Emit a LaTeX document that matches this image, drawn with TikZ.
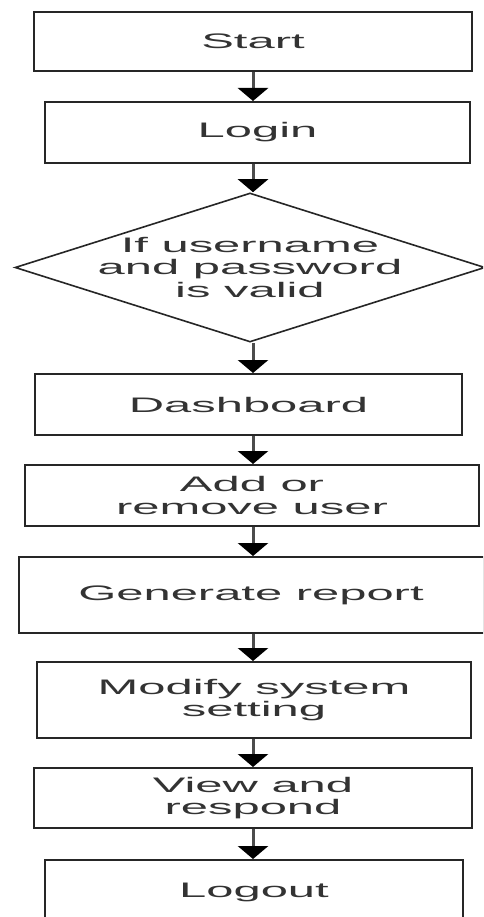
\documentclass[tikz,border=0pt]{standalone}
\usepackage{fontspec}
\setmainfont[FakeStretch=2.33]{Liberation Sans}
\usetikzlibrary{shapes.geometric,arrows.meta}
\begin{document}
\begin{tikzpicture}[x=1pt,y=-1pt,
  box/.style={draw=black!85,line width=2pt,rectangle,inner sep=0pt,align=center,
    text=black!80,font=\fontsize{21}{22.5}\selectfont},
  decision/.style={draw=black!85,line width=1.6pt,diamond,inner sep=0pt,
    minimum width=470pt,minimum height=149pt},
  txt/.style={align=center,inner sep=0pt,text=black!80,font=\fontsize{21}{22.5}\selectfont},
  flow/.style={draw=black!70,line width=3pt,-{Triangle[width=30pt,length=13pt,black]}}]
\clip (0,0) rectangle (483,917);
\fill[white] (0,0) rectangle (483,917);
\coordinate (axis) at (253,0);
\node[box,minimum width=438pt,minimum height=59pt] (start) at (253,41.5) {Start};
\node[box,minimum width=425pt,minimum height=61pt] (login) at (257.5,132.5) {Login};
\node[decision] (valid) at (250,267.5) {};
\node[txt] (validtxt) at (250,267.5) {If username\\and password\\is valid};
\node[box,minimum width=427pt,minimum height=61pt] (dash) at (248.5,404.5) {Dashboard};
\node[box,minimum width=454pt,minimum height=61pt] (user) at (252,495.5) {Add or\\remove user};
\node[box,minimum width=465pt,minimum height=76pt] (report) at (251,595) {Generate report};
\node[box,minimum width=434pt,minimum height=76pt] (modify) at (254,700) {Modify system\\setting};
\node[box,minimum width=438pt,minimum height=60pt] (view) at (253,798) {View and\\respond};
\node[box,minimum width=418pt,minimum height=64pt] (logout) at (254,892) {Logout};
\draw[flow] (start.south -| axis) -- (login.north -| axis);
\draw[flow] (login.south -| axis) -- (valid.north -| axis);
\draw[flow] (valid.south -| axis) -- (dash.north -| axis);
\draw[flow] (dash.south -| axis) -- (user.north -| axis);
\draw[flow] (user.south -| axis) -- (report.north -| axis);
\draw[flow] (report.south -| axis) -- (modify.north -| axis);
\draw[flow] (modify.south -| axis) -- (view.north -| axis);
\draw[flow] (view.south -| axis) -- (logout.north -| axis);
\end{tikzpicture}
\end{document}
